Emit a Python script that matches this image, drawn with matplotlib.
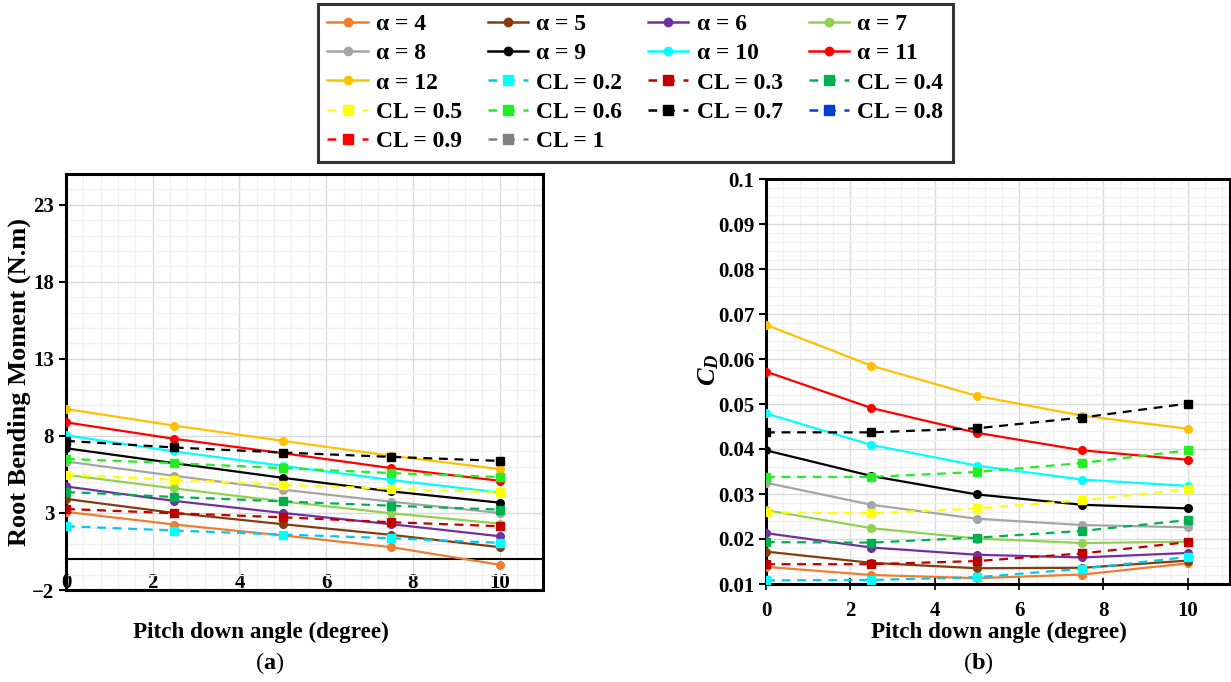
import numpy as np
import matplotlib
matplotlib.use("Agg")
import matplotlib.pyplot as plt
from matplotlib.lines import Line2D
from matplotlib.ticker import AutoMinorLocator

plt.rcParams["font.family"] = "Liberation Serif"
plt.rcParams["font.weight"] = "bold"
plt.rcParams["mathtext.fontset"] = "custom"
plt.rcParams["mathtext.rm"] = "Liberation Serif"
plt.rcParams["mathtext.it"] = "Liberation Serif:italic"
plt.rcParams["mathtext.bf"] = "Liberation Serif:bold"

# data
pitch = [0, 2.5, 5, 7.5, 10]

alphas = [4, 5, 6, 7, 8, 9, 10, 11, 12]
rbm_alpha = [
    [3.07, 2.25, 1.54, 0.78, -0.36],
    [3.91, 3.00, 2.27, 1.58, 0.78],
    [4.72, 3.78, 3.00, 2.27, 1.49],
    [5.48, 4.59, 3.75, 2.98, 2.31],
    [6.34, 5.41, 4.51, 3.73, 3.00],
    [7.20, 6.23, 5.28, 4.40, 3.67],
    [8.04, 6.99, 6.06, 5.14, 4.33],
    [8.88, 7.81, 6.88, 5.91, 5.09],
    [9.75, 8.67, 7.68, 6.71, 5.85],
]
cd_alpha = [
    [0.0138, 0.0120, 0.0113, 0.0121, 0.0146],
    [0.0172, 0.0147, 0.0135, 0.0136, 0.0152],
    [0.0213, 0.0181, 0.0165, 0.0159, 0.0169],
    [0.0264, 0.0224, 0.0201, 0.0191, 0.0194],
    [0.0325, 0.0276, 0.0245, 0.0231, 0.0226],
    [0.0397, 0.0340, 0.0299, 0.0276, 0.0268],
    [0.0479, 0.0409, 0.0363, 0.0332, 0.0318],
    [0.0572, 0.0491, 0.0436, 0.0397, 0.0376],
    [0.0676, 0.0585, 0.0518, 0.0474, 0.0445],
]

cl_values = ["0.2", "0.3", "0.4", "0.5", "0.6", "0.7", "0.8", "0.9", "1"]
rbm_cl = [
    [2.14, 1.86, 1.60, 1.36, 1.06],
    [3.26, 2.98, 2.72, 2.40, 2.14],
    [4.36, 4.04, 3.75, 3.47, 3.22],
    [5.48, 5.16, 4.83, 4.57, 4.33],
    [6.51, 6.23, 5.91, 5.59, 5.33],
    [7.68, 7.25, 6.92, 6.64, 6.38],
]
cd_cl = [
    [0.0108, 0.0109, 0.0115, 0.0134, 0.0160],
    [0.0144, 0.0144, 0.0151, 0.0168, 0.0193],
    [0.0193, 0.0192, 0.0203, 0.0218, 0.0242],
    [0.0259, 0.0257, 0.0268, 0.0286, 0.0311],
    [0.0338, 0.0338, 0.0349, 0.0369, 0.0397],
    [0.0437, 0.0437, 0.0446, 0.0470, 0.0501],
]

x_ticks = [0, 2, 4, 6, 8, 10]
rbm_ticks = [-2, 3, 8, 13, 18, 23]
cd_ticks = [0.01, 0.02, 0.03, 0.04, 0.05, 0.06, 0.07, 0.08, 0.09, 0.1]

alpha_colors = ["#ED7D31", "#843C0C", "#7030A0", "#92D050", "#A5A5A5",
                "#000000", "#00FFFF", "#FF0000", "#FFC000"]
cl_colors = ["#00C8F0", "#C00000", "#00B050", "#FFFF00", "#22EE22",
             "#000000", "#0040D0", "#FF0000", "#808080"]
cl_markers = ["#00FFFF", "#C00000", "#00B050", "#FFFF00", "#22EE22",
              "#000000", "#0040D0", "#FF0000", "#808080"]

GRID_MAJOR = "#D9D9D9"
GRID_MINOR = "#F0F0F0"

fig = plt.figure(figsize=(12.31, 6.82), dpi=100)
ax1 = fig.add_axes([66 / 1231, 1 - 590 / 682, 477 / 1231, 416 / 682])
ax2 = fig.add_axes([766 / 1231, 1 - 584 / 682, 464 / 1231, 405 / 682])


def draw_series(ax, alpha_data, cl_data):
    for vals, c in zip(alpha_data, alpha_colors):
        ax.plot(pitch, vals, color=c, lw=1.6, marker="o", ms=5.5, zorder=3)
    for vals, c, mc in zip(cl_data, cl_colors, cl_markers):
        ax.plot(pitch, vals, color=c, lw=1.6, ls=(0, (4, 3)), marker="s",
                ms=5.5, mfc=mc, mec=mc, zorder=3)


def style_grid(ax):
    ax.set_axisbelow(True)
    ax.grid(which="major", color=GRID_MAJOR, lw=1.0)
    ax.grid(which="minor", color=GRID_MINOR, lw=1.0)
    for s in ax.spines.values():
        s.set_linewidth(2.2)
        s.set_color("black")


# (a) root bending moment
draw_series(ax1, rbm_alpha, rbm_cl)
ax1.set_xlim(0, 11)
ax1.set_ylim(-2, 25)
ax1.set_xticks(x_ticks)
ax1.xaxis.set_minor_locator(AutoMinorLocator(5))
ax1.set_yticks(rbm_ticks)
ax1.yaxis.set_minor_locator(AutoMinorLocator(5))
style_grid(ax1)
ax1.spines["bottom"].set_position(("data", 0))
ax1.spines["bottom"].set_linewidth(1.5)
ax1.axhline(-2, color="black", lw=2.2, clip_on=False, zorder=5)
ax1.tick_params(axis="x", which="both", length=0, pad=10, labelsize=15)
ax1.tick_params(axis="y", which="major", length=5, width=1.5, labelsize=15)
ax1.tick_params(axis="y", which="minor", length=0)
ax1.set_ylabel("Root Bending Moment (N.m)", fontsize=19, fontweight="bold")
ax1.yaxis.set_label_coords(-0.074, 0.5)

# (b) drag coefficient
draw_series(ax2, cd_alpha, cd_cl)
ax2.set_xlim(0, 11)
ax2.set_ylim(0.01, 0.1)
ax2.set_xticks(x_ticks)
ax2.xaxis.set_minor_locator(AutoMinorLocator(5))
ax2.set_yticks(cd_ticks, labels=[f"{t:g}" for t in cd_ticks])
ax2.yaxis.set_minor_locator(AutoMinorLocator(5))
style_grid(ax2)
ax2.tick_params(axis="x", which="major", direction="inout", length=9,
                width=1.2, pad=8, labelsize=15)
ax2.tick_params(axis="y", which="major", direction="out", length=5,
                width=1.5, labelsize=15)
ax2.tick_params(which="minor", length=0)
ax2.set_ylabel(r"$C_D$", fontsize=19)
ax2.yaxis.set_label_coords(-0.098, 0.528)

fig.text(261 / 1231, 1 - 632 / 682, "Pitch down angle (degree)", ha="center",
         va="center", fontsize=16.7, fontweight="bold")
fig.text(999 / 1231, 1 - 632 / 682, "Pitch down angle (degree)", ha="center",
         va="center", fontsize=16.7, fontweight="bold")
fig.text(270 / 1231, 1 - 663 / 682, r"($\mathbf{a}$)", ha="center",
         va="center", fontsize=17.5, fontweight="normal")
fig.text(978 / 1231, 1 - 663 / 682, r"($\mathbf{b}$)", ha="center",
         va="center", fontsize=17.5, fontweight="normal")

# legend, filled row by row like the original
handles = [Line2D([], [], color=c, lw=1.8, marker="o", ms=6)
           for c in alpha_colors]
labels = [f"α = {a}" for a in alphas]
handles += [Line2D([], [], color=c, lw=1.8, ls=(0, (3.5, 3.5)), marker="s",
                   ms=6.5, mfc=mc, mec=mc)
            for c, mc in zip(cl_colors, cl_markers)]
labels += [f"CL = {v}" for v in cl_values]

ncol, nrow = 4, 5
order = [r * ncol + c for c in range(ncol) for r in range(nrow)
         if r * ncol + c < len(handles)]
leg = fig.legend([handles[i] for i in order], [labels[i] for i in order],
                 ncol=ncol, loc="upper left",
                 bbox_to_anchor=(318 / 1231, 1 - 4 / 682), borderaxespad=0,
                 prop={"family": "Liberation Serif", "weight": "bold",
                       "size": 17},
                 frameon=True, fancybox=False, edgecolor="black",
                 handlelength=1.7, handletextpad=0.35, columnspacing=1.1,
                 labelspacing=0.33, borderpad=0.4, numpoints=1)
leg.get_frame().set_linewidth(2.2)

fig.savefig("out.png", dpi=100)
